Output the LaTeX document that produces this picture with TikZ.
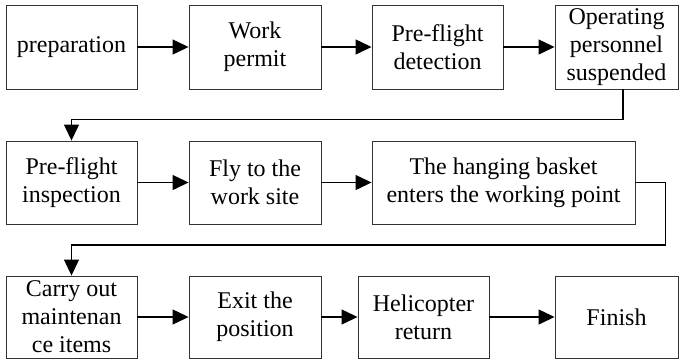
\documentclass[tikz,border=0pt]{standalone}
\usepackage{fontspec}
\setmainfont{Liberation Serif}
\usetikzlibrary{arrows.meta,calc}
\begin{document}
\begin{tikzpicture}[x=1pt,y=-1pt,
  stepbox/.style={draw=black!80,line width=0.9pt,inner sep=0pt,align=center,
    font=\fontsize{24}{28}\selectfont},
  flow/.style={draw=black,line width=1.2pt,-{Triangle[length=16pt,width=15pt]}}]
\useasboundingbox (0,0) rectangle (680,360);
% first row
\node[stepbox,minimum width=131pt,minimum height=84pt] (prep) at (71.5,47) {preparation};
\node[stepbox,minimum width=132pt,minimum height=84pt] (permit) at (255,47) {Work\\permit};
\node[stepbox,minimum width=131pt,minimum height=84pt] (detect) at (437.5,47) {Pre-flight\\detection};
\node[stepbox,minimum width=123pt,minimum height=84pt] (susp) at (616.5,47) {Operating\\personnel\\suspended};
% second row
\node[stepbox,minimum width=131pt,minimum height=83pt] (insp) at (71.5,182.5) {Pre-flight\\inspection};
\node[stepbox,minimum width=132pt,minimum height=83pt] (fly) at (255,182.5) {Fly to the\\work site};
\node[stepbox,minimum width=263pt,minimum height=83pt] (basket) at (503.5,182.5) {The hanging basket\\enters the working point};
% third row
\node[stepbox,minimum width=131pt,minimum height=82pt] (carry) at (71.5,317) {Carry out\\maintenan\\ce items};
\node[stepbox,minimum width=132pt,minimum height=82pt] (exit) at (255,317) {Exit the\\position};
\node[stepbox,minimum width=131pt,minimum height=82pt] (heli) at (423.5,317) {Helicopter\\return};
\node[stepbox,minimum width=123pt,minimum height=82pt] (finish) at (616.5,317) {Finish};
% connectors
\draw[flow] (prep) -- (permit);
\draw[flow] (permit) -- (detect);
\draw[flow] (detect) -- (susp);
\draw[flow] ([xshift=6.5pt]susp.south) -- ++(0,30) -| (insp.north);
\draw[flow] (insp) -- (fly);
\draw[flow] (fly) -- (basket);
\draw[flow] (basket.east) -| ++(30,62.5) -| (carry.north);
\draw[flow] (carry) -- (exit);
\draw[flow] (exit) -- (heli);
\draw[flow] (heli) -- (finish);
\end{tikzpicture}
\end{document}
